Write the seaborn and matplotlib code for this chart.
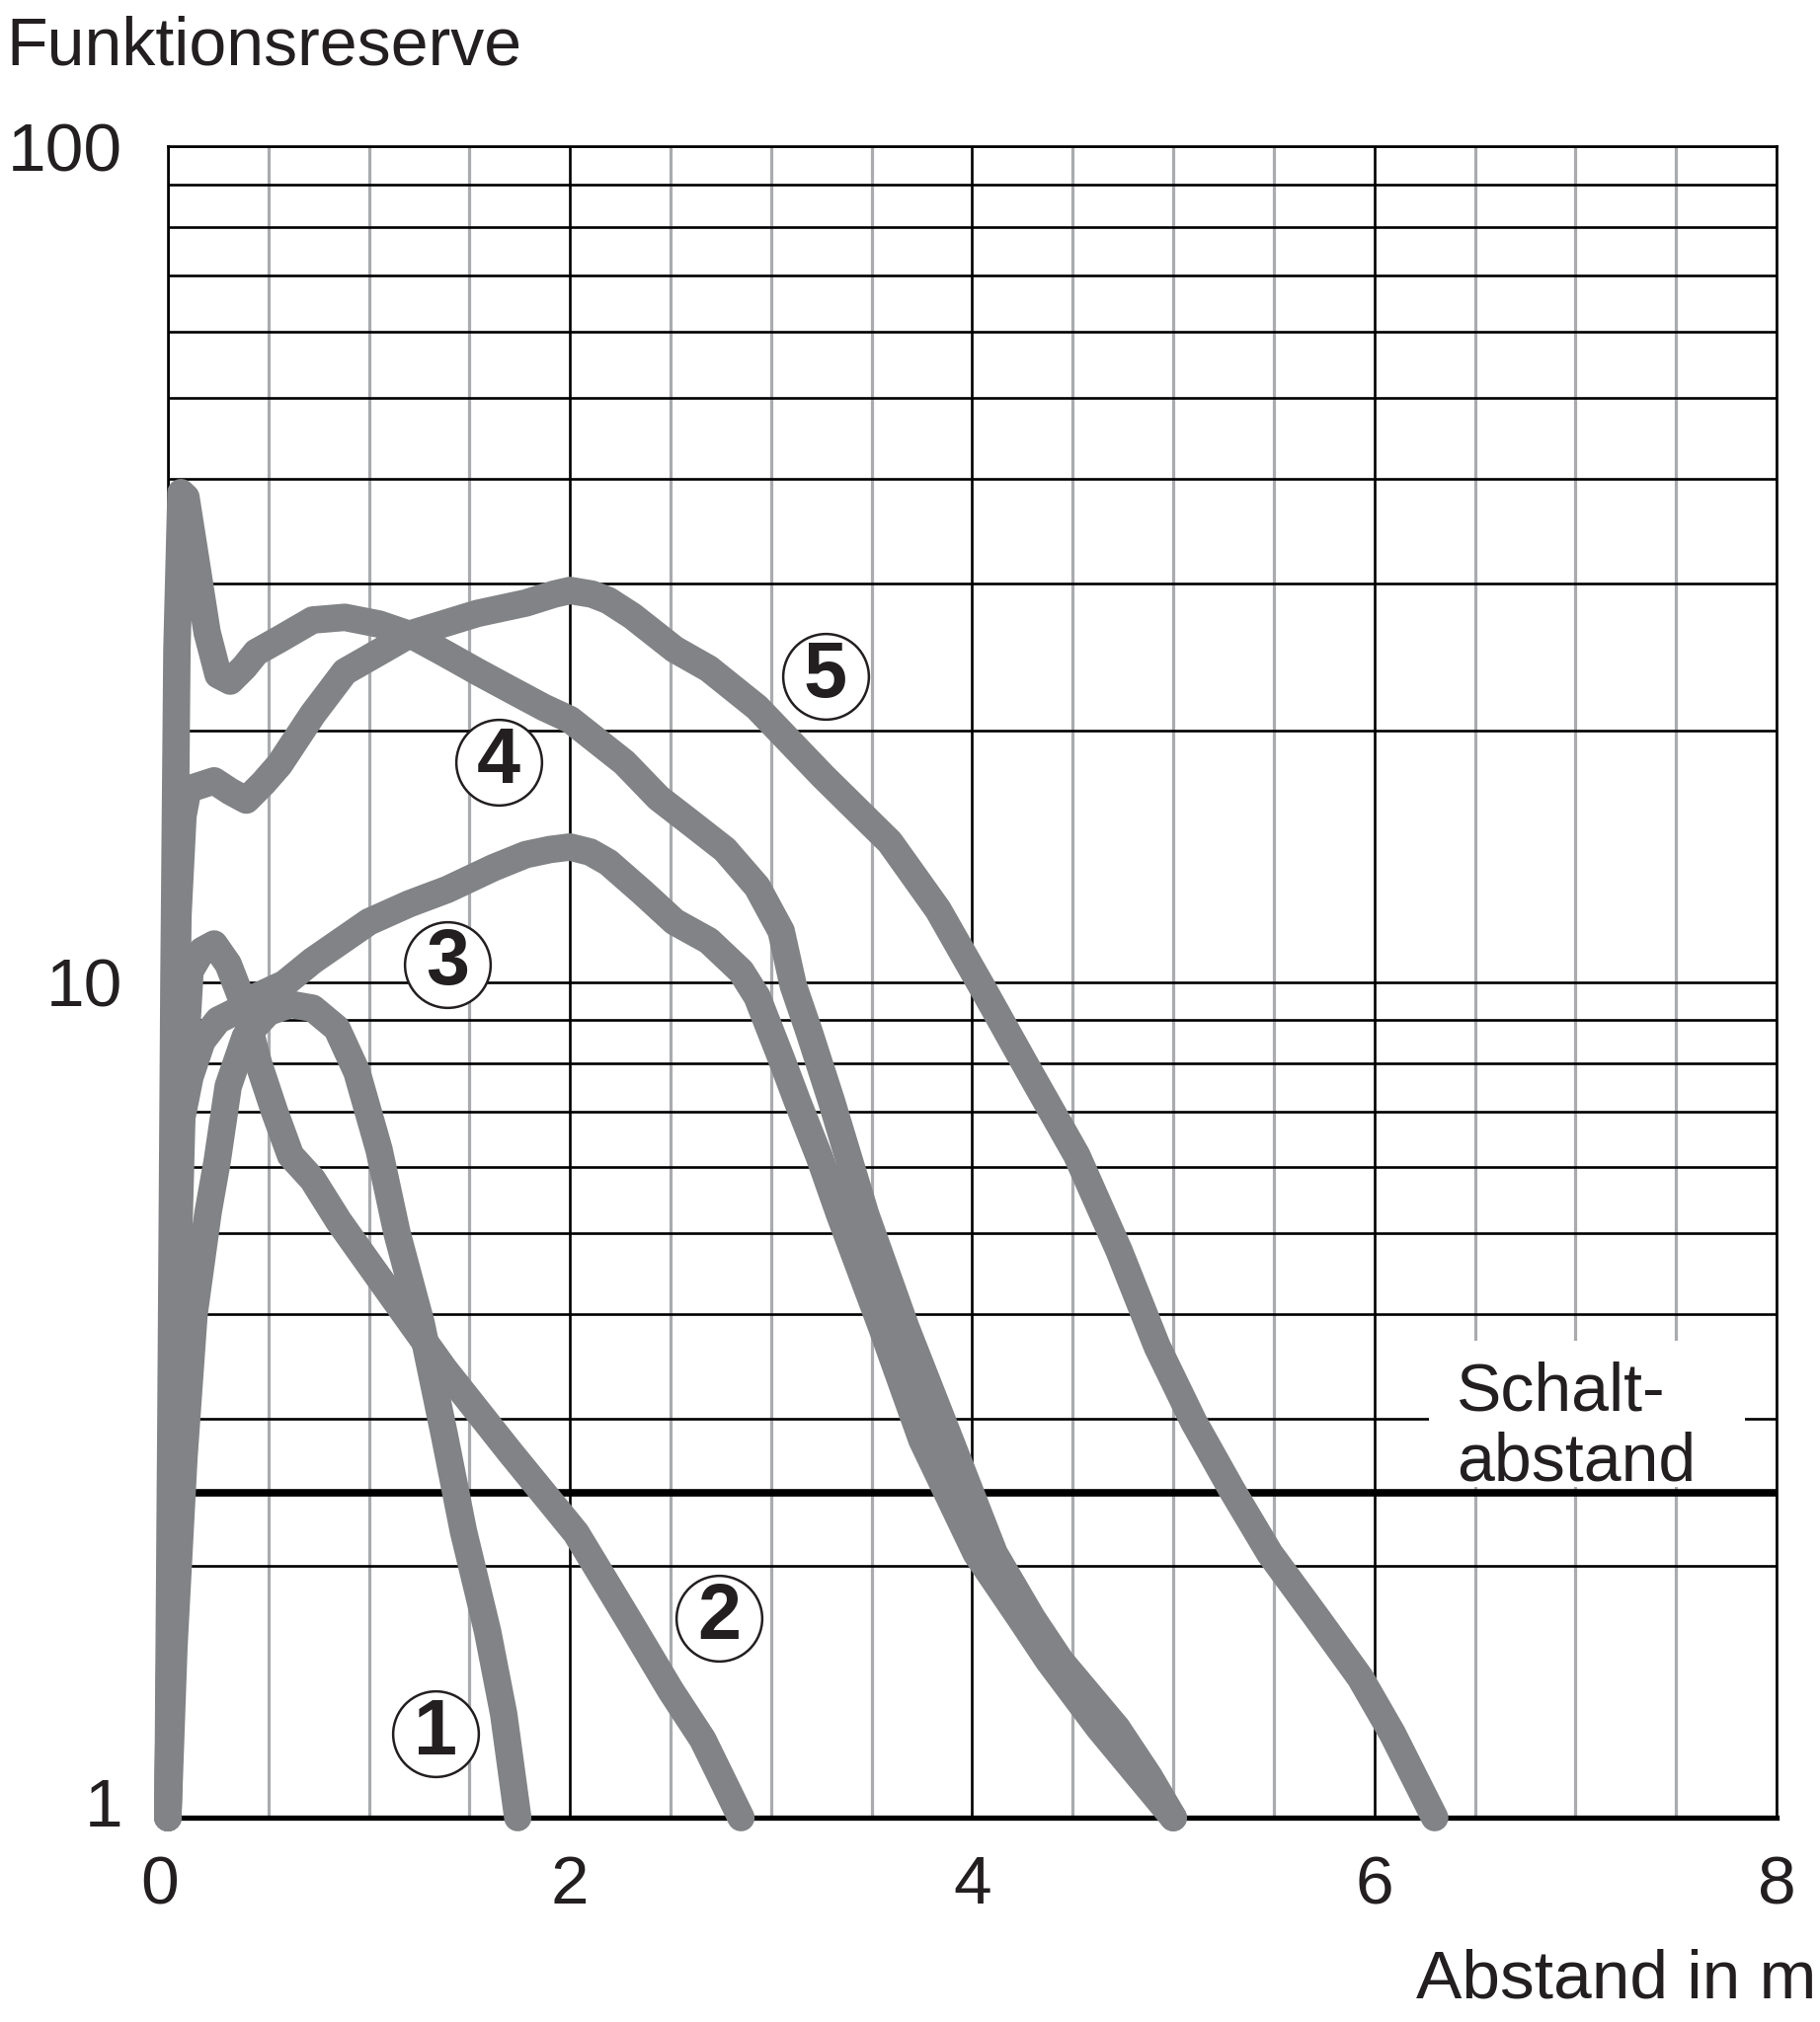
import pandas as pd
import matplotlib
matplotlib.use("Agg")
import matplotlib.pyplot as plt
import matplotlib.ticker as mticker
import matplotlib.transforms as mtransforms
from matplotlib.patches import Rectangle
import seaborn as sns

# === Daten: Funktionsreserve ueber Abstand ===
k1_x = [0.0, 0.03, 0.08, 0.13, 0.20, 0.245, 0.30, 0.385, 0.50, 0.61, 0.72, 0.84, 0.94,
        1.05, 1.14, 1.26, 1.375, 1.47, 1.59, 1.67, 1.74]
k1_y = [1.0, 1.6, 2.7, 4.0, 5.3, 6.1, 7.5, 8.6, 9.2, 9.4, 9.3, 8.8, 7.8,
        6.3, 5.0, 3.9, 2.87, 2.2, 1.67, 1.33, 1.0]

k2_x = [0.0, 0.03, 0.07, 0.11, 0.17, 0.23, 0.30, 0.37, 0.45, 0.53, 0.61, 0.72, 0.85,
        1.0, 1.18, 1.375, 1.70, 2.03, 2.3, 2.5, 2.66, 2.85]
k2_y = [1.0, 3.0, 7.0, 10.3, 10.9, 11.1, 10.5, 9.5, 8.0, 7.0, 6.2, 5.8, 5.17,
        4.6, 4.0, 3.44, 2.74, 2.19, 1.71, 1.42, 1.24, 1.0]

k3_x = [0.0, 0.02, 0.04, 0.065, 0.11, 0.17, 0.25, 0.33, 0.44, 0.58, 0.72, 1.0, 1.2,
        1.39, 1.62, 1.78, 1.9, 2.0, 2.1, 2.19, 2.36, 2.52, 2.69, 2.85, 2.93, 3.05,
        3.13, 3.24, 3.34, 3.55, 3.75, 4.02, 4.24, 4.38, 4.63, 4.83, 5.0]
k3_y = [1.0, 2.5, 5.0, 6.8, 7.7, 8.5, 9.0, 9.2, 9.6, 9.95, 10.6, 11.8, 12.4,
        12.9, 13.7, 14.2, 14.4, 14.5, 14.3, 13.9, 12.8, 11.8, 11.2, 10.3, 9.6, 8.1,
        7.2, 6.17, 5.27, 3.86, 2.83, 2.07, 1.73, 1.54, 1.28, 1.12, 1.0]

k4_x = [0.0, 0.015, 0.03, 0.045, 0.065, 0.09, 0.13, 0.195, 0.25, 0.31, 0.38, 0.44,
        0.555, 0.72, 0.88, 1.05, 1.21, 1.38, 1.54, 1.70, 1.87, 2.0, 2.27, 2.44, 2.60,
        2.77, 2.93, 3.05, 3.11, 3.19, 3.30, 3.47, 3.67, 3.89, 4.11, 4.30, 4.44, 4.72,
        4.88, 5.0]
k4_y = [1.0, 3.0, 10.0, 25.0, 38.5, 38.0, 33.0, 26.2, 23.3, 22.9, 23.8, 24.8,
        25.7, 27.1, 27.3, 26.8, 26.0, 24.7, 23.5, 22.4, 21.3, 20.6, 18.3, 16.6, 15.5,
        14.4, 13.0, 11.5, 9.9, 8.7, 7.2, 5.27, 3.86, 2.83, 2.07, 1.73, 1.54, 1.28,
        1.12, 1.0]

k5_x = [0.0, 0.02, 0.035, 0.05, 0.075, 0.10, 0.23, 0.31, 0.39, 0.475, 0.555, 0.72,
        0.88, 1.05, 1.21, 1.54, 1.78, 1.92, 2.0, 2.11, 2.19, 2.31, 2.52, 2.69, 2.93,
        3.26, 3.59, 3.83, 4.05, 4.28, 4.52, 4.73, 4.92, 5.10, 5.29, 5.48, 5.71, 5.93,
        6.09, 6.30]
k5_y = [1.0, 2.5, 6.0, 12.0, 15.8, 17.0, 17.4, 16.9, 16.5, 17.3, 18.2, 20.9,
        23.5, 24.8, 26.1, 27.6, 28.4, 29.1, 29.4, 29.1, 28.6, 27.4, 25.0, 23.7, 21.3,
        17.6, 14.7, 12.2, 9.85, 7.84, 6.2, 4.77, 3.66, 2.98, 2.47, 2.07, 1.74, 1.47,
        1.26, 1.0]

kurven_namen = ["1", "2", "3", "4", "5"]
label_x = [1.33, 2.74, 1.39, 1.645, 3.27]
label_y = [1.26, 1.73, 10.5, 18.3, 23.2]

schalt_y = 2.45
x_ticks = [0, 2, 4, 6, 8]
x_labels = ["0", "2", "4", "6", "8"]
y_ticks = [1, 10, 100]
y_labels = ["1", "10", "100"]

KURVE = "#818386"
TEXT = "#231f20"
HELLGRAU = "#a9abae"

sns.set_theme(style="white")
plt.rcParams["font.family"] = ["Liberation Sans", "DejaVu Sans"]

df = pd.concat(
    [pd.DataFrame({"abstand": xs, "reserve": ys, "kurve": n})
     for n, xs, ys in zip(kurven_namen,
                          [k1_x, k2_x, k3_x, k4_x, k5_x],
                          [k1_y, k2_y, k3_y, k4_y, k5_y])],
    ignore_index=True,
)

fig = plt.figure(figsize=(18.43, 20.48), dpi=100)
ax = fig.add_axes([170 / 1843, 1 - 1841 / 2048, 1629 / 1843, 1693 / 2048])
ax.set_yscale("log")

sns.lineplot(
    data=df, x="abstand", y="reserve", hue="kurve", estimator=None, sort=False,
    palette={n: KURVE for n in kurven_namen}, linewidth=20, legend=False, ax=ax,
    solid_capstyle="round", solid_joinstyle="round", clip_on=False, zorder=3,
)

ax.set_xlim(0, 8)
ax.set_ylim(1, 100)
ax.set_xlabel("")
ax.set_ylabel("")

# Gitter
ax.set_xticks(x_ticks, labels=x_labels)
ax.xaxis.set_minor_locator(mticker.MultipleLocator(0.5))
ax.set_yticks(y_ticks, labels=y_labels)
ax.yaxis.set_minor_locator(mticker.LogLocator(base=10, subs=range(2, 10)))
ax.yaxis.set_minor_formatter(mticker.NullFormatter())
ax.set_axisbelow(True)
ax.grid(True, which="minor", axis="x", color=HELLGRAU, linewidth=2.3, zorder=0.5)
ax.grid(True, which="major", axis="x", color="black", linewidth=1.9, zorder=0.6)
ax.grid(True, which="both", axis="y", color="black", linewidth=1.9, zorder=0.6)

ax.tick_params(which="both", length=0)
ax.tick_params(axis="x", pad=27, labelsize=50, labelcolor=TEXT)
ax.tick_params(axis="y", pad=33, labelsize=50, labelcolor=TEXT)

for side in ["left", "top", "right"]:
    ax.spines[side].set_color("black")
    ax.spines[side].set_linewidth(1.9)
ax.spines["bottom"].set_color("black")
ax.spines["bottom"].set_linewidth(3.8)

# "1" etwas hoeher, "0" etwas nach links
lab1 = ax.get_yticklabels()[0]
lab1.set_transform(lab1.get_transform() +
                   mtransforms.ScaledTranslation(0, 0.16, fig.dpi_scale_trans))
lab0 = ax.get_xticklabels()[0]
lab0.set_transform(lab0.get_transform() +
                   mtransforms.ScaledTranslation(-0.08, 0, fig.dpi_scale_trans))

# Schaltabstand
ax.axhline(schalt_y, color="black", linewidth=5.5, zorder=2.5)
ax.add_patch(Rectangle((6.27, 2.49), 1.575, 1.23, facecolor="white",
                       edgecolor="none", zorder=1.8))
ax.text(6.41, 3.52, "Schalt-\nabstand", fontsize=49, color=TEXT, ha="left", va="top",
        linespacing=1.15, zorder=2)

# Kurvennummern
sns.scatterplot(x=label_x, y=label_y, s=3900, color="white", edgecolor=TEXT,
                linewidth=1.8, zorder=4, ax=ax, legend=False, clip_on=False)
for n, lx, ly in zip(kurven_namen, label_x, label_y):
    ax.text(lx, ly, n, fontsize=57, fontweight="bold", color=TEXT,
            ha="center", va="center", zorder=5)

fig.text(6 / 1843, 1 - 65 / 2048, "Funktionsreserve", fontsize=49, color=TEXT,
         ha="left", va="baseline")
fig.text(1839 / 1843, 1 - 2023 / 2048, "Abstand in m", fontsize=50, color=TEXT,
         ha="right", va="baseline")

fig.savefig("out.png", dpi=100, facecolor="white")
